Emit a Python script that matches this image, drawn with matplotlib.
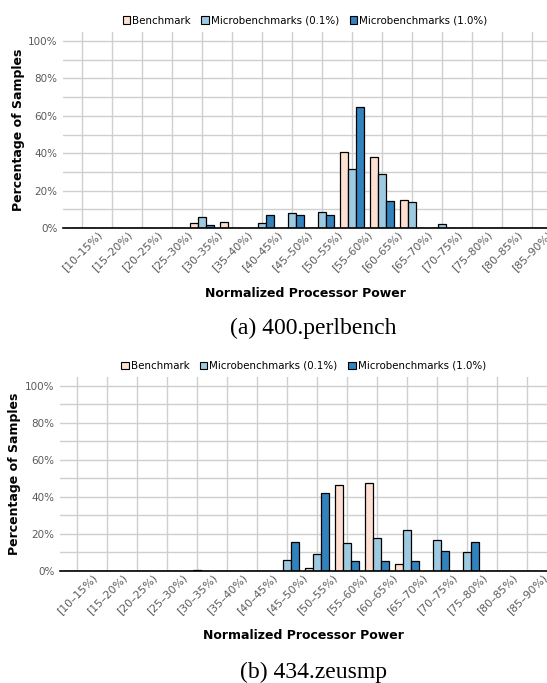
import matplotlib
matplotlib.use("Agg")
import matplotlib.pyplot as plt
import numpy as np
from matplotlib.patches import Patch

# power bins on the x axis
bins = ['[10–15%)', '[15–20%)', '[20–25%)', '[25–30%)', '[30–35%)', '[35–40%)',
        '[40–45%)', '[45–50%)', '[50–55%)', '[55–60%)', '[60–65%)', '[65–70%)',
        '[70–75%)', '[75–80%)', '[80–85%)', '[85–90%)']
series = ['Benchmark', 'Microbenchmarks (0.1%)', 'Microbenchmarks (1.0%)']

# (a) 400.perlbench, percentage of samples per bin
perl_bench = [0, 0, 0, 0, 2.7, 3.4, 0, 0, 0, 40.5, 37.8, 14.8, 0, 0, 0, 0]
perl_micro01 = [0, 0, 0, 0, 5.7, 0, 2.5, 8.2, 8.6, 31.4, 28.7, 13.9, 2.1, 0, 0, 0]
perl_micro10 = [0, 0, 0, 0, 1.4, 0, 6.8, 6.8, 6.8, 64.7, 14.4, 0, 0, 0, 0, 0]

# (b) 434.zeusmp
zeus_bench = [0, 0, 0, 0, 0, 0, 0, 0, 1.5, 46.3, 47.7, 4.0, 0, 0, 0, 0]
zeus_micro01 = [0, 0, 0, 0, 0.8, 0, 0, 5.9, 9.0, 15.0, 18.0, 22.3, 16.9, 10.3, 0, 0]
zeus_micro10 = [0, 0, 0, 0, 0, 0, 0, 15.7, 42.2, 5.2, 5.2, 5.2, 10.6, 15.8, 0, 0]

colors = ['#fee0d2', '#9ecae1', '#3182bd']
gray = '#5a5a5a'


def dist_chart(ax, values, xlim):
  x = np.arange(len(bins))
  w = 0.27
  for i, v in enumerate(values):
    ax.bar(x + (i - 1) * w, v, w, color=colors[i], edgecolor='black',
           linewidth=0.9, zorder=3)
  ax.set_xlim(*xlim)
  ax.set_ylim(0, 105)
  ax.set_xticks(x)
  ax.set_xticklabels(bins, rotation=45, ha='center', va='top',
                     fontsize=7.8, color=gray)
  ax.set_yticks(np.arange(0, 101, 20))
  ax.set_yticks(np.arange(0, 101, 10), minor=True)
  ax.set_yticklabels(['%d%%' % v for v in range(0, 101, 20)],
                     fontsize=7.5, color=gray)
  ax.tick_params(length=0, which='both')
  ax.tick_params(axis='y', pad=4)
  ax.tick_params(axis='x', pad=1)
  ax.grid(True, which='both', color='#cfcfcf', linewidth=1, zorder=0)
  for s in ['top', 'right', 'left']:
    ax.spines[s].set_visible(False)
  ax.spines['bottom'].set_linewidth(1.2)
  ax.spines['bottom'].set_zorder(4)
  ax.set_xlabel('Normalized Processor Power', fontsize=9, fontweight='bold')
  ax.set_ylabel('Percentage of Samples', fontsize=9, fontweight='bold')
  ax.xaxis.set_label_coords(0.5, -0.30)
  ax.yaxis.set_label_coords(-0.08, 0.5)
  handles = [Patch(facecolor=c, edgecolor='black', linewidth=0.8) for c in colors]
  ax.legend(handles, series, loc='lower center', bbox_to_anchor=(0.5, 1.03),
            ncol=3, frameon=False, fontsize=7.4, handlelength=0.75,
            handleheight=0.75, handletextpad=0.2, columnspacing=1.0,
            borderpad=0, borderaxespad=0)
  return ax


fig = plt.figure(figsize=(5.47, 6.83), dpi=100)
ax1 = fig.add_axes([63.3 / 547, 1 - 228 / 683, (547 - 63.3) / 547, (228 - 31.7) / 683])
ax2 = fig.add_axes([60 / 547, 1 - 571 / 683, (547 - 60) / 547, (571 - 376.7) / 683])

dist_chart(ax1, [perl_bench, perl_micro01, perl_micro10], (-0.62, 15.5))
dist_chart(ax2, [zeus_bench, zeus_micro01, zeus_micro10], (-0.58, 15.66))

fig.text(313 / 547, 1 - 328 / 683, '(a) 400.perlbench', ha='center', va='center',
         fontsize=17, family='Liberation Serif')
fig.text(313 / 547, 1 - 672 / 683, '(b) 434.zeusmp', ha='center', va='center',
         fontsize=17, family='Liberation Serif')

fig.savefig('out.png', dpi=100)
